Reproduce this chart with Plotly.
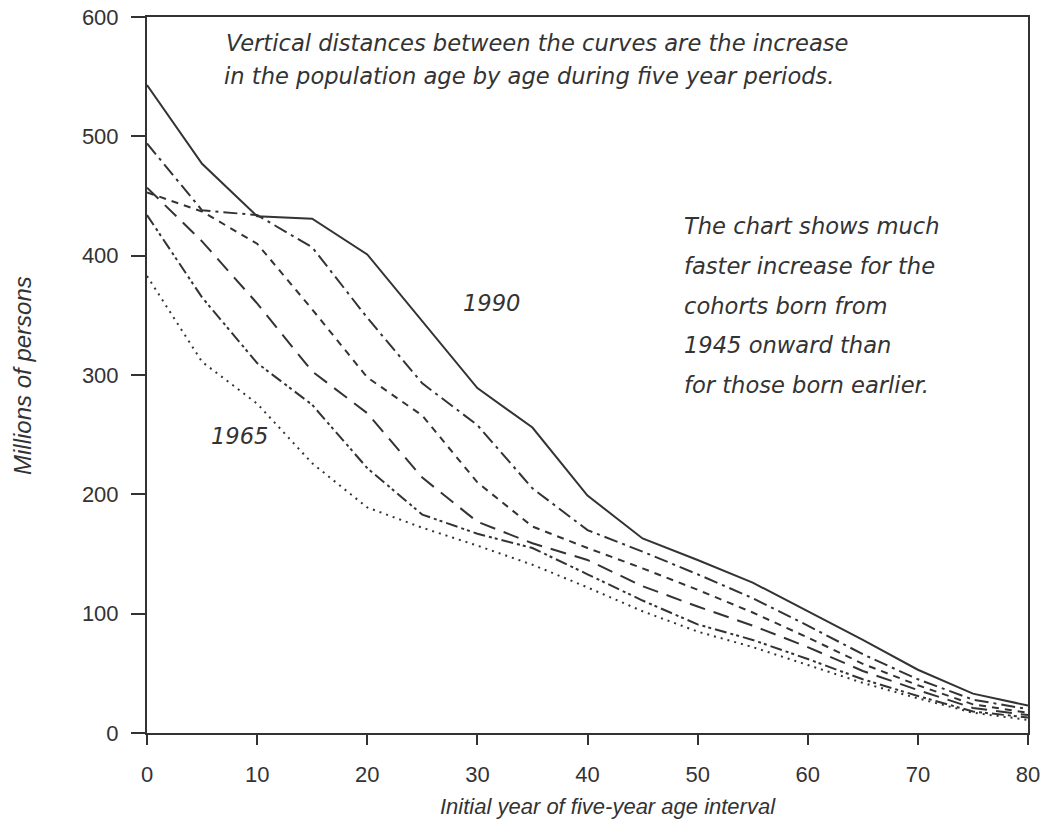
import plotly.graph_objects as go

ages = [0, 5, 10, 15, 20, 25, 30, 35, 40, 45, 50, 55, 60, 65, 70, 75, 80]

pop_1990 = [543, 477, 433, 431, 401, 345, 289, 256, 199, 163, 145, 126, 102, 78, 53, 33, 23]
pop_1985 = [494, 438, 434, 407, 348, 293, 258, 205, 170, 152, 133, 113, 90, 66, 45, 28, 20]
pop_1980 = [453, 437, 410, 355, 298, 266, 210, 173, 155, 138, 120, 101, 80, 58, 40, 24, 17]
pop_1975 = [457, 412, 360, 303, 268, 214, 177, 159, 145, 123, 106, 90, 72, 52, 36, 21, 15]
pop_1970 = [434, 365, 310, 275, 222, 183, 167, 155, 133, 111, 91, 78, 62, 45, 31, 18, 13]
pop_1965 = [383, 311, 276, 226, 189, 172, 157, 141, 122, 102, 85, 72, 57, 42, 29, 17, 11]

series = [
    ("1990", pop_1990, "solid"),
    ("1985", pop_1985, "14px,5px,3px,5px"),
    ("1980", pop_1980, "7px,6px"),
    ("1975", pop_1975, "16px,9px"),
    ("1970", pop_1970, "12px,4px,3px,3px,3px,4px"),
    ("1965", pop_1965, "2px,5px"),
]

ink = "#333333"
fig = go.Figure()
for name, vals, dash in series:
    fig.add_trace(go.Scatter(x=ages, y=vals, mode="lines", name=name,
                             line=dict(color=ink, width=2, dash=dash),
                             showlegend=False))

tick_fam = "Liberation Sans, Arial, sans-serif"
note_fam = "DejaVu Sans, Liberation Sans, sans-serif"
txt = dict(family=note_fam, size=22.6, color=ink)

def note(x, y, text, xanchor="left"):
    fig.add_annotation(x=x, y=y, xref="x", yref="y", text="<i>" + text + "</i>",
                       showarrow=False, xanchor=xanchor, yanchor="middle", font=txt)

note(7.0, 578, "Vertical distances between the curves are the increase")
note(6.8, 550.5, "in the population age by age during five year periods.")

right_lines = ["The chart shows much", "faster increase for the", "cohorts born from",
               "1945 onward than", "for those born earlier."]
right_y = [425, 391, 358, 325, 292]
for t, yv in zip(right_lines, right_y):
    note(48.6, yv, t)

note(31.3, 360, "1990", xanchor="center")
note(8.45, 249, "1965", xanchor="center")

# axis titles
fig.add_annotation(x=0.523, y=-0.102, xref="paper", yref="paper",
                   text="<i>Initial year of five-year age interval</i>", showarrow=False,
                   xanchor="center", yanchor="middle",
                   font=dict(family=tick_fam, size=22, color=ink))
fig.add_annotation(x=-0.1419, y=0.5, xref="paper", yref="paper",
                   text="<i>Millions of persons</i>", showarrow=False, textangle=-90,
                   xanchor="center", yanchor="middle",
                   font=dict(family=tick_fam, size=24, color=ink))

fig.update_layout(
    width=1053, height=836,
    margin=dict(l=147, r=25, t=17, b=103),
    paper_bgcolor="white", plot_bgcolor="white",
    font=dict(family=tick_fam, size=22, color=ink),
)
fig.update_xaxes(range=[0, 80], tickvals=list(range(0, 81, 10)), automargin=False,
                 showgrid=False, zeroline=False, showline=True, linecolor=ink,
                 linewidth=2, mirror=True, ticks="outside", ticklen=10,
                 tickwidth=2, tickcolor=ink, tickfont=dict(size=22),
                 ticklabelstandoff=11, ticklabeloverflow="allow")
fig.update_yaxes(range=[0, 600], tickvals=list(range(0, 601, 100)), automargin=False,
                 showgrid=False, zeroline=False, showline=True, linecolor=ink,
                 linewidth=2, mirror=True, ticks="outside", ticklen=14,
                 tickwidth=2, tickcolor=ink, tickfont=dict(size=22),
                 ticklabelstandoff=8, ticklabeloverflow="allow")

fig.write_html("out.html", config={"displayModeBar": False},
               post_script="document.body.style.margin='0px';")
